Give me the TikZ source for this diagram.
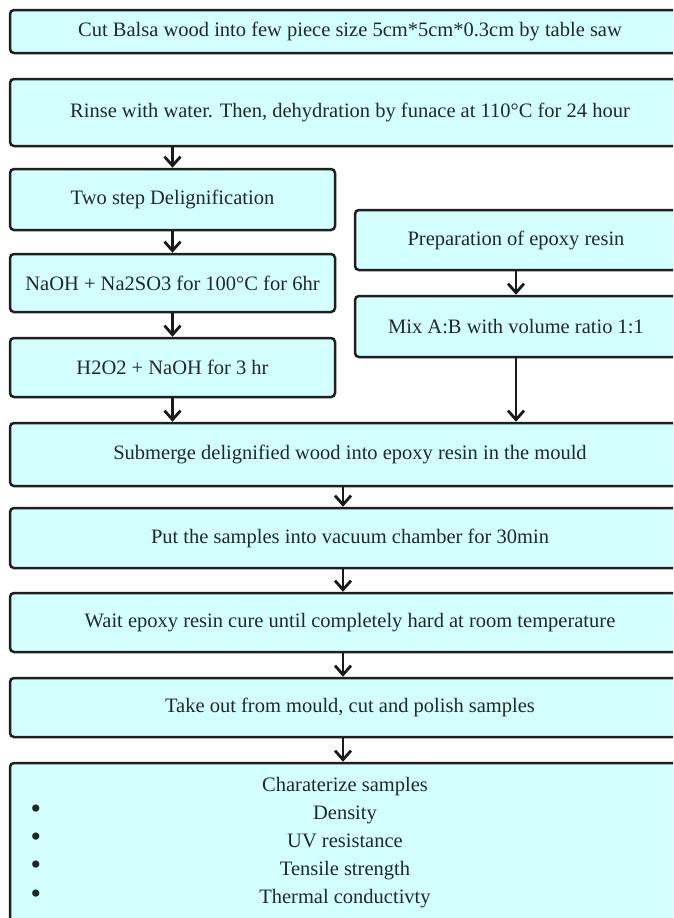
\documentclass[tikz,border=0pt]{standalone}
\usepackage{fontspec}
\setmainfont{Liberation Serif}
\usetikzlibrary{arrows.meta}
\definecolor{boxfill}{RGB}{212,255,255}
\definecolor{boxtext}{RGB}{30,42,42}
\tikzset{
  stepbox/.style={draw=black!88, line width=2.5pt, rounded corners=4pt, fill=boxfill, text=boxtext,
    font=\fontsize{20.5}{28}\selectfont, inner sep=0pt},
  flow/.style={-{Straight Barb[length=9pt,width=16pt]}, line width=2.8pt, black!90},
  plain/.style={text=boxtext, font=\fontsize{20.5}{28}\selectfont, inner sep=0pt}
}
\begin{document}
\begin{tikzpicture}[x=1pt,y=-1pt]
        \useasboundingbox (0,0) rectangle (673,918);
        \clip (0,0) rectangle (673,918);
        \node[stepbox, minimum width=680, minimum height=43] (cut) at (350,31.5) {Cut Balsa wood into few piece size 5cm*5cm*0.3cm by table saw};
        \node[stepbox, minimum width=680, minimum height=67] (rinse) at (350,112.5) {Rinse with water. Then, dehydration by funace at 110°C for 24 hour};
        % left column
        \node[stepbox, minimum width=325, minimum height=61] (deli) at (172.5,199.5) {Two step Delignification};
        \node[stepbox, minimum width=325, minimum height=58] (soda) at (172.5,283) {NaOH + Na2SO3 for 100°C for 6hr};
        \node[stepbox, minimum width=325, minimum height=59] (perox) at (172.5,367.5) {H2O2 + NaOH for 3 hr};
        % right column
        \node[stepbox, minimum width=322, minimum height=60] (epoxy) at (516,240) {Preparation of epoxy resin};
        \node[stepbox, minimum width=322, minimum height=61] (mix) at (516,326.5) {Mix A:B with volume ratio 1:1};
        % main line
        \node[stepbox, minimum width=680, minimum height=63] (merge) at (350,454.5) {Submerge delignified wood into epoxy resin in the mould};
        \node[stepbox, minimum width=680, minimum height=60] (vacuum) at (350,538) {Put the samples into vacuum chamber for 30min};
        \node[stepbox, minimum width=680, minimum height=59] (cure) at (350,622.5) {Wait epoxy resin cure until completely hard at room temperature};
        \node[stepbox, minimum width=680, minimum height=59] (polish) at (350,707.5) {Take out from mould, cut and polish samples};
        \node[stepbox, minimum width=680, minimum height=167] (charbox) at (350,846.5) {};
        \node[plain, align=center] (chartext) at (345,843) {Charaterize samples\\Density\\UV resistance\\Tensile strength\\Thermal conductivty};
        \foreach \y/\n in {812/1,840/2,868/3,897/4}
            \node[plain, font=\fontsize{30}{30}\selectfont] (dot\n) at (36,\y) {\textbullet};
        % connectors
        \draw[flow] (rinse.south -| deli.north) -- (deli.north);
        \draw[flow] (deli) -- (soda);
        \draw[flow] (soda) -- (perox);
        \draw[flow] (perox) -- (perox.south |- merge.north);
        \draw[flow] (epoxy) -- (mix);
        \draw[flow] (mix) -- (mix.south |- merge.north);
        \foreach \a/\b in {merge/vacuum,vacuum/cure,cure/polish,polish/charbox}
            \draw[flow] ([xshift=-7pt]\a.south) -- ([xshift=-7pt]\b.north);
    \end{tikzpicture}
\end{document}
